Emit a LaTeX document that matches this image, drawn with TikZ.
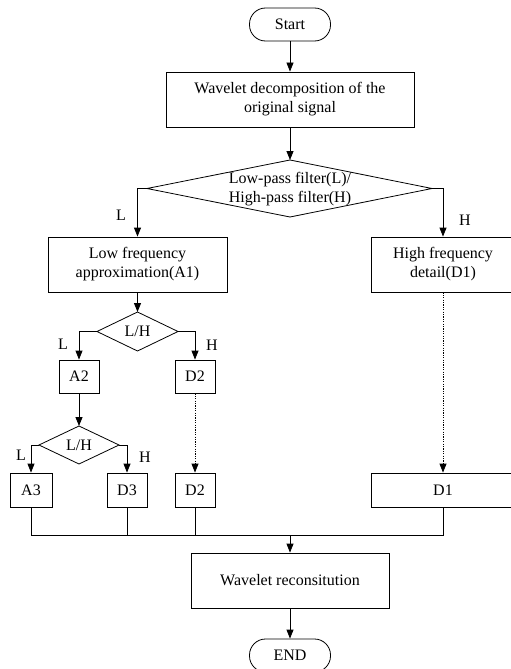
\documentclass[tikz,border=0pt]{standalone}
\usepackage{fontspec}
\setmainfont{Liberation Serif}
\usetikzlibrary{arrows.meta}
\begin{document}
\begin{tikzpicture}[x=1pt,y=-1pt,
  every node/.style={font=\fontsize{16}{19}\selectfont},
  line/.style={line width=0.8pt,draw=black},
  arr/.style={line width=0.8pt, -{Triangle[length=9pt,width=7pt]}},
  box/.style={draw,line width=0.8pt,rectangle,inner sep=0pt,align=center},
  term/.style={draw,line width=0.8pt,rectangle,rounded corners=16pt,inner sep=0pt,minimum width=81pt,minimum height=33pt},
  dectext/.style={inner sep=0pt,align=center},
  decline/.style={line width=0.8pt,line join=miter},
  dots/.style={line width=0.8pt,dash pattern=on 1.2pt off 1.2pt,-{Triangle[length=9pt,width=7pt]}},
  lab/.style={inner sep=0pt}
]
\clip (0,0) rectangle (511,669);
\fill[white] (0,0) rectangle (511,669);
\node[term] (start) at (290,24.5) {Start};
\node[box,minimum width=248pt,minimum height=55pt] (dec1) at (290,99.5) {Wavelet decomposition of the\\original signal};
% main diamond
\node[dectext] (dm) at (290,189.5) {Low-pass filter(L)/\\High-pass filter(H)};
\coordinate (dmN) at (290,160);
\coordinate (dmS) at (290,217);
\coordinate (dmW) at (147,188.5);
\coordinate (dmE) at (432,188.5);
\draw[decline] (dmN) -- (dmE) -- (dmS) -- (dmW) -- cycle;
\node[box,minimum width=179pt,minimum height=55pt] (a1) at (137.5,264.5) {Low frequency\\approximation(A1)};
\node[box,minimum width=144pt,minimum height=55pt] (d1) at (443,264.5) {High frequency\\detail(D1)};
% diamond 1
\node[dectext] (dl1) at (137.5,331.5) {L/H};
\coordinate (dl1N) at (137.5,312);
\coordinate (dl1S) at (137.5,351);
\coordinate (dl1W) at (97,331.5);
\coordinate (dl1E) at (178,331.5);
\draw[decline] (dl1N) -- (dl1E) -- (dl1S) -- (dl1W) -- cycle;
\node[box,minimum width=40pt,minimum height=33pt] (a2) at (79,376.5) {A2};
\node[box,minimum width=40pt,minimum height=33pt] (d2) at (195,376.5) {D2};
% diamond 2
\node[dectext] (dl2) at (79,445) {L/H};
\coordinate (dl2N) at (79,426);
\coordinate (dl2S) at (79,464);
\coordinate (dl2W) at (39,445);
\coordinate (dl2E) at (119,445);
\draw[decline] (dl2N) -- (dl2E) -- (dl2S) -- (dl2W) -- cycle;
\node[box,minimum width=42pt,minimum height=34pt] (a3) at (31,490) {A3};
\node[box,minimum width=40pt,minimum height=34pt] (d3) at (127,490) {D3};
\node[box,minimum width=40pt,minimum height=34pt] (d2b) at (195,490) {D2};
\node[box,minimum width=144pt,minimum height=34pt] (d1b) at (443,490) {D1};
\node[box,minimum width=198pt,minimum height=55pt] (rec) at (290,580.5) {Wavelet reconsitution};
\node[term] (end) at (290,655.5) {END};
\coordinate (busM) at (290,535);
% labels
\node[lab] (lL0) at (121,215) {L};
\node[lab] (lH0) at (465,220) {H};
\node[lab] (lL1) at (63,344) {L};
\node[lab] (lH1) at (212,345) {H};
\node[lab] (lL2) at (21,455) {L};
\node[lab] (lH2) at (145,457) {H};
% connectors
\draw[arr] (start) -- (dec1);
\draw[arr] (dec1) -- (dmN);
\draw[arr] (dmW) -| (a1.north);
\draw[arr] (dmE) -| (d1.north);
\draw[arr] (a1) -- (dl1N);
\draw[arr] (dl1W) -| (a2.north);
\draw[arr] (dl1E) -| (d2.north);
\draw[arr] (a2) -- (dl2N);
\draw[arr] (dl2W) -| (a3.north);
\draw[arr] (dl2E) -| (d3.north);
\draw[dots] (d2.south) -- (d2b.north);
\draw[dots] (d1.south) -- (d1b.north);
\draw[line] (a3.south) |- (d1b.south |- busM) -- (d1b.south);
\draw[line] (d3.south) -- (d3.south |- busM);
\draw[line] (d2b.south) -- (d2b.south |- busM);
\draw[arr] (busM) -- (rec.north);
\draw[arr] (rec) -- (end);
\end{tikzpicture}
\end{document}
